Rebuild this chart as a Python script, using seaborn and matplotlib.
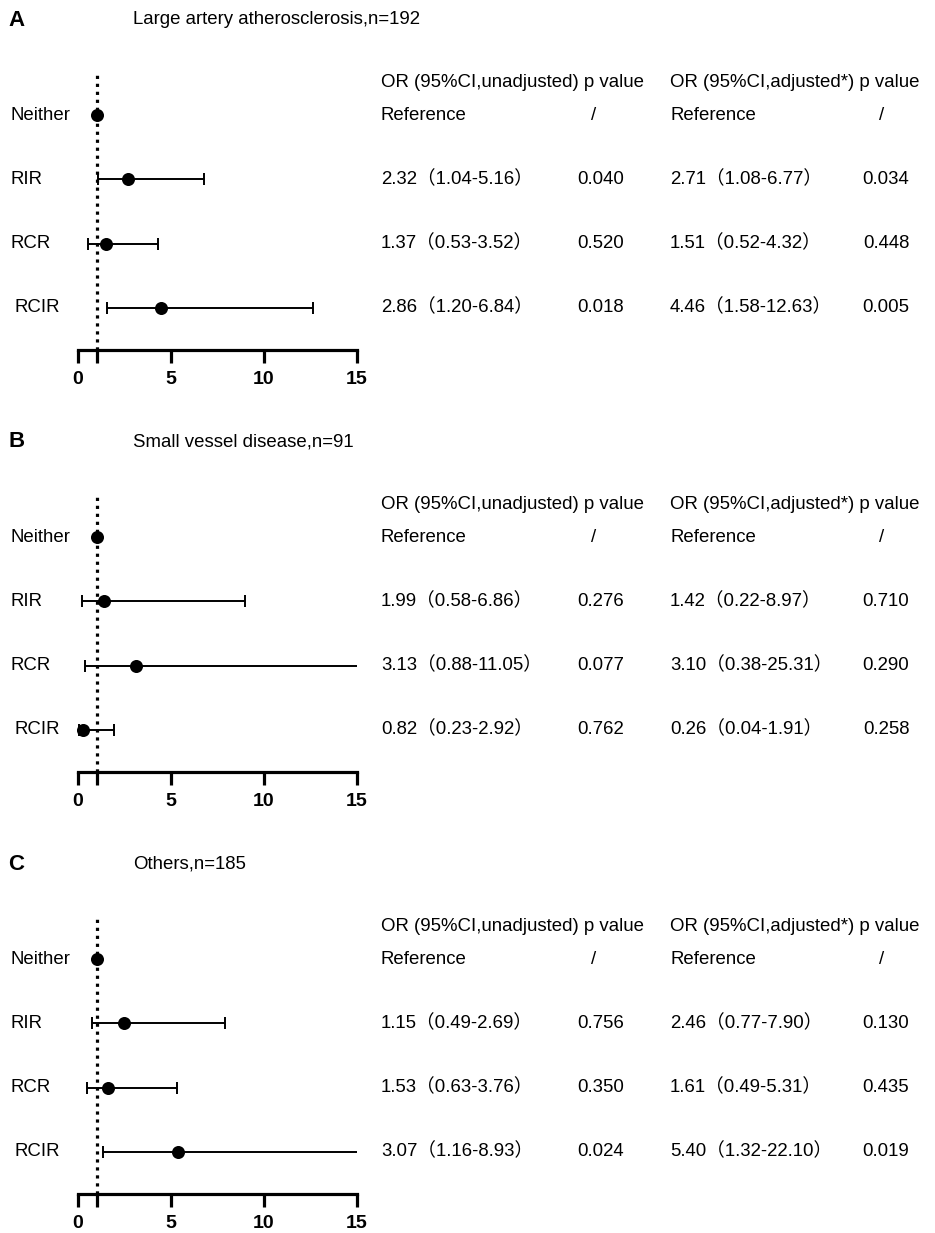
import numpy as np
import pandas as pd
import seaborn as sns
import matplotlib
matplotlib.use('Agg')
import matplotlib.pyplot as plt
from matplotlib.transforms import blended_transform_factory

# Rows of every panel, top to bottom
groups = ['Neither', 'RIR', 'RCR', 'RCIR']

panel_letters = ['A', 'B', 'C']
panel_titles = ['Large artery atherosclerosis,n=192',
                'Small vessel disease,n=91',
                'Others,n=185']

# Unadjusted OR, 95% CI and p value (RIR, RCR, RCIR)
unadj_or = [[2.32, 1.37, 2.86], [1.99, 3.13, 0.82], [1.15, 1.53, 3.07]]
unadj_lo = [[1.04, 0.53, 1.20], [0.58, 0.88, 0.23], [0.49, 0.63, 1.16]]
unadj_hi = [[5.16, 3.52, 6.84], [6.86, 11.05, 2.92], [2.69, 3.76, 8.93]]
unadj_p = [['0.040', '0.520', '0.018'],
           ['0.276', '0.077', '0.762'],
           ['0.756', '0.350', '0.024']]

# Adjusted OR, 95% CI and p value (plotted)
adj_or = [[2.71, 1.51, 4.46], [1.42, 3.10, 0.26], [2.46, 1.61, 5.40]]
adj_lo = [[1.08, 0.52, 1.58], [0.22, 0.38, 0.04], [0.77, 0.49, 1.32]]
adj_hi = [[6.77, 4.32, 12.63], [8.97, 25.31, 1.91], [7.90, 5.31, 22.10]]
adj_p = [['0.034', '0.448', '0.005'],
         ['0.710', '0.290', '0.258'],
         ['0.130', '0.435', '0.019']]

ref_or = 1.0
x_ticks = [0, 5, 10, 15]

sns.set_theme(style='white')
plt.rcParams['font.family'] = ['Liberation Sans', 'Noto Sans CJK SC',
                               'DejaVu Sans']

W, H = 935, 1233
fig = plt.figure(figsize=(W / 100, H / 100), dpi=100)


def fx(px):
    return px / W


def fy(py):
    return 1 - py / H


def fmt_ci(o, lo, hi):
    return '{:.2f}（{:.2f}-{:.2f}）'.format(o, lo, hi)


FS = 13.4
row_y = [4, 3, 2, 1]

for i in range(3):
    off = 422 * i
    top, bottom = 72 + off, 350 + off
    ax = fig.add_axes([fx(78), fy(bottom), fx(279), (bottom - top) / H])

    df = pd.DataFrame({
        'group': groups,
        'y': row_y,
        'or': [ref_or] + adj_or[i],
        'lo': [ref_or] + adj_lo[i],
        'hi': [ref_or] + adj_hi[i],
    })
    ci = df.iloc[1:]

    # reference line at OR = 1
    ax.axvline(ref_or, color='black', lw=2.3,
               linestyle=(0, (1, 1.5)), dash_capstyle='butt', zorder=1)
    ax.errorbar(ci['or'], ci['y'],
                xerr=[ci['or'] - ci['lo'], ci['hi'] - ci['or']],
                fmt='none', ecolor='black', elinewidth=1.4,
                capsize=4.2, capthick=1.4, zorder=2)
    sns.scatterplot(data=df, x='or', y='y', ax=ax, color='black', s=88,
                    edgecolor='black', linewidth=0, zorder=3, clip_on=False,
                    legend=False)

    ax.set_xlim(0, 15)
    ax.set_ylim(1 - 42 / 64, 4 + 43 / 64)
    ax.set_xlabel('')
    ax.set_ylabel('')
    ax.set_yticks([])
    ax.set_xticks(x_ticks)
    ax.set_xticks([ref_or], minor=True)
    ax.set_xticklabels([str(t) for t in x_ticks], fontweight='bold',
                       fontsize=14)
    for s in ['left', 'right', 'top']:
        ax.spines[s].set_visible(False)
    ax.spines['bottom'].set_linewidth(2.3)
    ax.spines['bottom'].set_color('black')
    ax.tick_params(axis='x', which='both', direction='out', length=9,
                   width=2.3, color='black', bottom=True, pad=6,
                   labelcolor='black')
    ax.tick_params(axis='x', which='minor', labelbottom=False)

    tr = blended_transform_factory(fig.transFigure, ax.transData)

    # group labels
    for g, yv in zip(groups, row_y):
        lx = 14 if g == 'RCIR' else 11
        ax.text(fx(lx), yv, g, transform=tr, ha='left', va='center',
                fontsize=FS, color='black')

    # headers
    hy = 4 + 33 / 64
    ax.text(fx(381), hy, 'OR (95%CI,unadjusted) p value', transform=tr,
            ha='left', va='center', fontsize=FS, color='black')
    ax.text(fx(670), hy, 'OR (95%CI,adjusted*) p value', transform=tr,
            ha='left', va='center', fontsize=FS, color='black')

    # reference row
    ax.text(fx(381), 4, 'Reference', transform=tr, ha='left', va='center',
            fontsize=FS, color='black')
    ax.text(fx(594), 4, '/', transform=tr, ha='center', va='center',
            fontsize=FS, color='black')
    ax.text(fx(670), 4, 'Reference', transform=tr, ha='left', va='center',
            fontsize=FS, color='black')
    ax.text(fx(882), 4, '/', transform=tr, ha='center', va='center',
            fontsize=FS, color='black')

    for j, yv in enumerate(row_y[1:]):
        ax.text(fx(381), yv, fmt_ci(unadj_or[i][j], unadj_lo[i][j],
                                    unadj_hi[i][j]),
                transform=tr, ha='left', va='center', fontsize=FS,
                color='black')
        ax.text(fx(601), yv, unadj_p[i][j], transform=tr, ha='center',
                va='center', fontsize=FS, color='black')
        ax.text(fx(670), yv, fmt_ci(adj_or[i][j], adj_lo[i][j],
                                    adj_hi[i][j]),
                transform=tr, ha='left', va='center', fontsize=FS,
                color='black')
        ax.text(fx(886), yv, adj_p[i][j], transform=tr, ha='center',
                va='center', fontsize=FS, color='black')

    fig.text(fx(8), fy(20 + off), panel_letters[i], ha='left', va='center',
             fontsize=16, fontweight='bold', color='black')
    fig.text(fx(133), fy(20 + off), panel_titles[i], ha='left', va='center',
             fontsize=FS, color='black')

fig.savefig('out.png', dpi=100, facecolor='white')
